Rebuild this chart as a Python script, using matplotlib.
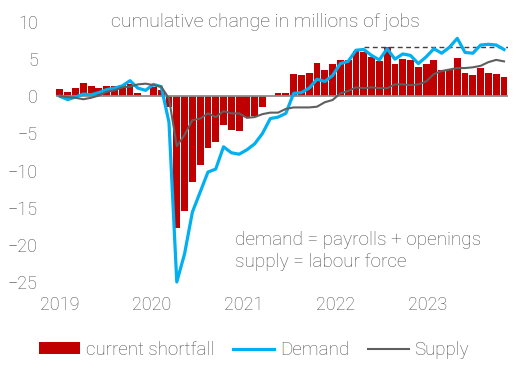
import matplotlib
matplotlib.use("Agg")
from matplotlib import pyplot as plt
import numpy as np

plt.rcParams["font.family"] = ["Roboto", "DejaVu Sans"]
plt.rcParams["font.weight"] = "light"

# Monthly data, Jan 2019 - Oct 2023 (millions of jobs)
years = ["2019", "2020", "2021", "2022", "2023"]

shortfall = [
    1.0, 0.6, 1.1, 1.8, 1.4, 1.1, 1.4, 1.4, 1.5, 1.6, 0.45, 0.0,
    1.2, 0.8, -1.4, -17.7, -15.5, -11.6, -9.2, -7.0, -6.1, -3.8, -4.5, -4.7,
    -2.8, -2.7, -1.5, 0.0, 0.4, 0.4, 3.0, 2.8, 3.2, 4.5, 3.6, 4.3,
    4.9, 4.9, 6.1, 5.9, 5.3, 4.7, 6.7, 4.3, 5.0, 4.9, 3.9, 4.3,
    4.9, 3.6, 3.6, 5.1, 3.1, 2.8, 3.8, 3.1, 3.0, 2.6,
]
demand = [
    0.0, -0.45, -0.1, 0.3, 0.2, 0.5, 0.9, 1.1, 1.4, 2.1, 1.1, 0.8,
    1.6, 1.3, -3.5, -25.0, -21.2, -15.6, -12.9, -10.2, -9.8, -6.8, -7.6, -7.8,
    -7.2, -6.4, -5.0, -3.0, -2.8, -2.3, 0.4, 0.5, 1.1, 2.3, 2.0, 2.8,
    4.4, 4.7, 6.2, 6.3, 5.5, 4.9, 6.4, 5.0, 5.7, 5.5, 4.4, 5.3,
    6.4, 5.8, 6.6, 7.8, 5.9, 5.8, 6.9, 7.0, 6.9, 6.3,
]
supply = [
    0.0, -0.1, -0.2, -0.4, -0.2, 0.1, 0.6, 0.8, 1.2, 1.3, 1.6, 1.7,
    1.5, 1.3, -0.3, -6.7, -5.2, -3.2, -3.0, -2.3, -2.8, -2.0, -2.3, -2.3,
    -2.9, -2.8, -2.4, -2.2, -2.2, -1.7, -1.5, -1.5, -1.5, -1.4, -0.8, -0.5,
    0.4, 0.7, 1.2, 1.1, 1.2, 1.1, 1.1, 1.6, 1.6, 1.5, 1.6, 2.0,
    3.0, 3.4, 3.6, 3.8, 3.8, 3.9, 4.1, 4.6, 4.9, 4.7,
]

TEXT = "#505050"
x = np.arange(len(shortfall))

fig = plt.figure(figsize=(5.31, 3.76), dpi=100)
ax = fig.add_axes([0.1055, 0.25, 0.851, 0.6915])

b = ax.bar(x, shortfall, width=0.88, color="#C00000", label="current shortfall", zorder=2)
ax.axhline(0, color="#8c8c8c", lw=1.3, zorder=3)
# dashed marker at the peak shortfall level
ax.hlines(max(shortfall), 39, len(x) - 0.5, colors="#404040", lw=1, linestyles=(0, (3.5, 2.5)), zorder=3)
ld, = ax.plot(x, demand, color="#00B0F0", lw=2.3, label="Demand", zorder=4, clip_on=False)
ls, = ax.plot(x, supply, color="#5f5f5f", lw=1.5, label="Supply", zorder=5, clip_on=False)

ax.set_xlim(-0.5, len(x) - 0.5)
ax.set_ylim(-25, 10)
ax.set_yticks(range(-25, 11, 5))
ax.set_xticks(np.arange(len(years)) * 11.8)
ax.set_xticklabels(years)
ax.tick_params(axis="both", length=0, labelsize=13, labelcolor=TEXT)
ax.tick_params(axis="y", pad=13)
ax.tick_params(axis="x", pad=10)
for s in ax.spines.values():
    s.set_visible(False)

fig.text(265 / 531, 1 - 22 / 376, "cumulative change in millions of jobs",
         ha="center", va="center", fontsize=14, color=TEXT)
fig.text(235 / 531, 1 - 240 / 376, "demand = payrolls + openings",
         ha="left", va="center", fontsize=13.7, color=TEXT)
fig.text(235 / 531, 1 - 262 / 376, "supply = labour force",
         ha="left", va="center", fontsize=13.7, color=TEXT)

leg = fig.legend([b, ld, ls], ["current shortfall", "Demand", "Supply"],
                 loc="center", bbox_to_anchor=(254 / 531, 1 - 350 / 376), ncol=3,
                 frameon=False, fontsize=13.5, handlelength=2.2, handleheight=0.6,
                 handletextpad=0.3, columnspacing=1.0, borderpad=0)
for t in leg.get_texts():
    t.set_color(TEXT)

fig.savefig("out.png", dpi=100)
